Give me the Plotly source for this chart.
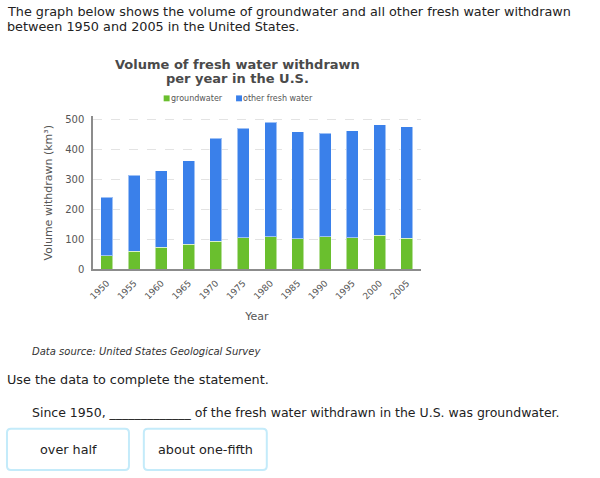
import plotly.graph_objects as go

years = ["1950", "1955", "1960", "1965", "1970", "1975", "1980", "1985", "1990", "1995", "2000", "2005"]
groundwater = [45, 61, 74, 84, 94, 106, 109, 102, 109, 106, 113, 103]
total = [240, 313, 328, 362, 437, 470, 489, 457, 453, 461, 481, 474]
other_fresh = [t - g for t, g in zip(total, groundwater)]
yticks = [0, 100, 200, 300, 400, 500]

GREEN = "#6abf2e"
BLUE = "#3a80ea"
FONT = "DejaVu Sans"
W, H = 600, 478


def px(x):
    return x / W


def py(y):
    return 1 - y / H


fig = go.Figure()
fig.add_trace(go.Bar(x=years, y=groundwater, name="groundwater",
                     marker=dict(color=GREEN, line=dict(color="rgba(255,255,255,0.5)", width=1)),
                     showlegend=False))
fig.add_trace(go.Bar(x=years, y=other_fresh, name="other fresh water",
                     marker=dict(color=BLUE, line=dict(color="rgba(255,255,255,0.5)", width=1)),
                     showlegend=False))

fig.update_layout(
    width=W, height=H,
    margin=dict(l=0, r=0, t=0, b=0),
    paper_bgcolor="white", plot_bgcolor="white",
    barmode="stack", bargap=0.56,
    hovermode=False, dragmode=False,
    font=dict(family=FONT, color="#555555"),
    xaxis=dict(domain=[px(89), px(419)], showline=True, linecolor="#8c8c8c", linewidth=2,
               tickangle=-45, tickfont=dict(size=9, color="#555555"), ticks="", ticklabelstandoff=3,
               title=dict(text="Year", font=dict(size=11, color="#555555"), standoff=12),
               showgrid=False, fixedrange=True),
    yaxis=dict(domain=[py(272), py(116)], range=[0, 510], tickvals=yticks,
               showline=True, linecolor="#8c8c8c", linewidth=2,
               showgrid=True, gridcolor="#e3e3e3", griddash="dash", zeroline=False,
               tickfont=dict(size=10, color="#555555"), ticks="", ticklabelstandoff=5, fixedrange=True,
               title=dict(text="Volume withdrawn (km³)", font=dict(size=11, color="#555555"), standoff=10)),
)

anns = []


def text(x, y, s, size=13, color="#222222", xanchor="left", bold=False, italic=False):
    anns.append(dict(x=px(x), y=py(y), xref="paper", yref="paper", text=s, showarrow=False,
                     xanchor=xanchor, yanchor="middle",
                     font=dict(family=FONT, size=size, color=color,
                               weight="bold" if bold else "normal",
                               style="italic" if italic else "normal")))


text(0, 10, "The graph below shows the volume of groundwater and all other fresh water withdrawn", 12.8)
text(0, 25, "between 1950 and 2005 in the United States.", 12.8)
text(234, 64, "Volume of fresh water withdrawn", 13, "#4a4a4a", "center", bold=True)
text(234, 78, "per year in the U.S.", 13, "#4a4a4a", "center", bold=True)
# legend
text(165, 98, "groundwater", 8, "#555555")
text(238, 98, "other fresh water", 8, "#555555")
text(25, 355, "Data source: United States Geological Survey", 10, "#333333", italic=True)
text(0, 384, "Use the data to complete the statement.", 12.8)
text(25, 417, "Since 1950, _____________ of the fresh water withdrawn in the U.S. was groundwater.", 12.5)
text(64, 455, "over half", 12.8, xanchor="center")
text(202, 455, "about one-fifth", 12.8, xanchor="center")
fig.update_layout(annotations=anns)

shapes = []
shapes.append(dict(type="rect", xref="paper", yref="paper", x0=px(160), x1=px(166), y0=py(95), y1=py(101),
                   fillcolor=GREEN, line=dict(width=0)))
shapes.append(dict(type="rect", xref="paper", yref="paper", x0=px(233), x1=px(239), y0=py(95), y1=py(101),
                   fillcolor=BLUE, line=dict(width=0)))


def rounded(x0, y0, x1, y1, r=4):
    return (f"M {px(x0 + r)},{py(y0)} L {px(x1 - r)},{py(y0)} Q {px(x1)},{py(y0)} {px(x1)},{py(y0 + r)} "
            f"L {px(x1)},{py(y1 - r)} Q {px(x1)},{py(y1)} {px(x1 - r)},{py(y1)} "
            f"L {px(x0 + r)},{py(y1)} Q {px(x0)},{py(y1)} {px(x0)},{py(y1 - r)} "
            f"L {px(x0)},{py(y0 + r)} Q {px(x0)},{py(y0)} {px(x0 + r)},{py(y0)} Z")


for (a, b) in [(2, 125), (140, 264)]:
    shapes.append(dict(type="path", xref="paper", yref="paper", path=rounded(a, 434, b, 476),
                       line=dict(color="#c4ebfa", width=2), fillcolor="rgba(0,0,0,0)"))
fig.update_layout(shapes=shapes)

post = ("var d=document.getElementById('{plot_id}');"
        "d.style.position='fixed';d.style.left='0px';d.style.top='0px';"
        "document.documentElement.style.overflow='hidden';"
        "document.body.style.margin='0';document.body.style.overflow='hidden';")
fig.write_html("out.html", config={"displayModeBar": False, "staticPlot": True}, post_script=post)
